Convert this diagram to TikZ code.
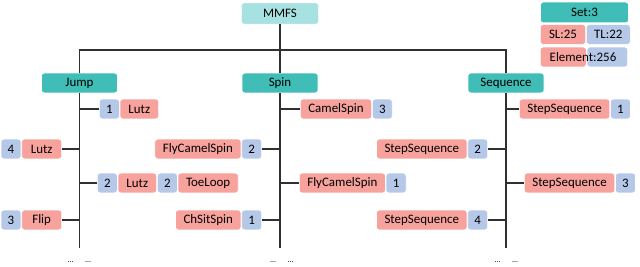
\documentclass[tikz,border=0pt]{standalone}
\usepackage{fontspec}
\setmainfont{Carlito}
\usetikzlibrary{positioning}

\definecolor{tealdark}{HTML}{3FBDB6}
\definecolor{teallight}{HTML}{A8E1E2}
\definecolor{salmon}{HTML}{F7A29C}
\definecolor{lblue}{HTML}{B6C8E8}
\definecolor{linegray}{HTML}{303030}

\tikzset{
  box/.style={rounded corners=2pt, draw=white, line width=0.5pt, inner sep=0pt,
    minimum height=14.8pt, font=\fontsize{9.7}{11}\selectfont},
  elem/.style={box, fill=salmon, inner xsep=6pt, minimum width=29pt},
  num/.style={box, fill=lblue, minimum width=15pt},
  cat/.style={box, fill=tealdark, minimum width=57pt},
  link/.style={draw=linegray, line width=0.9pt},
  etc/.style={font=\fontsize{6}{7}\selectfont, inner sep=0pt, anchor=base},
}

\begin{document}
\begin{tikzpicture}[x=0.75pt,y=-0.75pt]

\useasboundingbox (0,0) rectangle (640,267);

\node[box, fill=teallight, minimum width=58pt, minimum height=16pt] (mmfs) at (280,13.5) {MMFS};
\node[cat] (jump) at (79.5,83) {Jump};
\node[cat] (spin) at (280,83) {Spin};
\node[cat] (seq) at (506,83) {Sequence};

% legend
\node[box, fill=tealdark, minimum width=66pt, minimum height=15.5pt] (set) at (584.5,12.5) {Set:3};
\node[elem, anchor=west, minimum width=34pt] (sl) at (540,34.5) {SL:25};
\node[num, right=0pt of sl, minimum width=33pt] (tl) {TL:22};
\node[elem, anchor=west, minimum width=34.5pt] (elS) at (540,57) {};
\node[num, right=0pt of elS, minimum width=30.5pt] (elT) {};
\node[font=\fontsize{9.7}{11}\selectfont, inner sep=0pt] (elem) at (583,57) {Element:256};

% Jump
\node[num, anchor=west] (j1n) at (99,109) {1};
\node[elem, right=0pt of j1n] (j1e) {Lutz};
\node[elem, anchor=east, minimum width=30pt] (j2e) at (62,149) {Lutz};
\node[num, left=0pt of j2e] (j2n) {4};
\node[num, anchor=west] (j3n) at (97,183) {2};
\node[elem, right=0pt of j3n] (j3e) {Lutz};
\node[num, right=0pt of j3e] (j3m) {2};
\node[elem, right=0pt of j3m] (j3f) {ToeLoop};
\node[elem, anchor=east, minimum width=30pt] (j4e) at (62,220) {Flip};
\node[num, left=0pt of j4e] (j4n) {3};

% Spin
\node[elem, anchor=west] (s1e) at (300,109) {CamelSpin};
\node[num, right=0pt of s1e] (s1n) {3};
\node[num, anchor=east] (s2n) at (262,149) {2};
\node[elem, left=0pt of s2n] (s2e) {FlyCamelSpin};
\node[elem, anchor=west] (s3e) at (299,183) {FlyCamelSpin};
\node[num, right=0pt of s3e] (s3n) {1};
\node[num, anchor=east] (s4n) at (262,220) {1};
\node[elem, left=0pt of s4n] (s4e) {ChSitSpin};

% Sequence
\node[elem, anchor=west] (q1e) at (519,109) {StepSequence};
\node[num, right=0pt of q1e] (q1n) {1};
\node[num, anchor=east] (q2n) at (488,149) {2};
\node[elem, left=0pt of q2n] (q2e) {StepSequence};
\node[elem, anchor=west] (q3e) at (524,183) {StepSequence};
\node[num, right=0pt of q3e] (q3n) {3};
\node[num, anchor=east] (q4n) at (488,220) {4};
\node[elem, left=0pt of q4n] (q4e) {StepSequence};

\node[etc] (jdots) at (79.5,263) {\ldots\hspace{9pt}\ldots};
\node[etc] (sdots) at (282,263) {\ldots\hspace{9pt}\ldots};
\node[etc] (qdots) at (506.5,263) {\ldots\hspace{9pt}\ldots};

\coordinate (bar) at (280,50);
\coordinate (jend) at (79.5,248);
\coordinate (send) at (280,248);
\coordinate (qend) at (506,248);

\draw[link] (mmfs.south) -- (spin.north);
\draw[link] (jump.north) |- (bar) -| (seq.north);

\draw[link] (jump.south) -- (jend);
\draw[link] (spin.south) -- (send);
\draw[link] (seq.south) -- (qend);

\draw[link] (j1n.west) -- (j1n.west -| jump.south);
\draw[link] (j2e.east) -- (j2e.east -| jump.south);
\draw[link] (j3n.west) -- (j3n.west -| jump.south);
\draw[link] (j4e.east) -- (j4e.east -| jump.south);

\draw[link] (s1e.west) -- (s1e.west -| spin.south);
\draw[link] (s2n.east) -- (s2n.east -| spin.south);
\draw[link] (s3e.west) -- (s3e.west -| spin.south);
\draw[link] (s4n.east) -- (s4n.east -| spin.south);

\draw[link] (q1e.west) -- (q1e.west -| seq.south);
\draw[link] (q2n.east) -- (q2n.east -| seq.south);
\draw[link] (q3e.west) -- (q3e.west -| seq.south);
\draw[link] (q4n.east) -- (q4n.east -| seq.south);

\end{tikzpicture}
\end{document}
